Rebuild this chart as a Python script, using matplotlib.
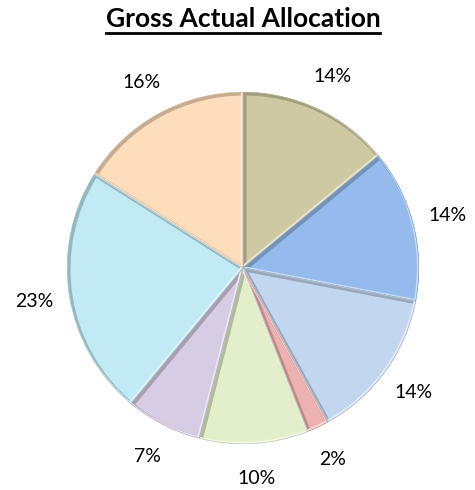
import matplotlib
matplotlib.use("Agg")
import matplotlib.pyplot as plt
import matplotlib.colors as mcolors
import matplotlib.transforms as mtransforms
from matplotlib.patches import Wedge
from matplotlib.lines import Line2D

# Allocation shares, clockwise from 12 o'clock
shares = [14, 14, 14, 2, 10, 7, 23, 16]
labels = ["14%", "14%", "14%", "2%", "10%", "7%", "23%", "16%"]
colors = ["#CFC9A3", "#95BBEC", "#C3D6F0", "#EDB1B0",
          "#E3EFCB", "#D6CCE3", "#C1EAF4", "#FDDDBB"]
title = "Gross Actual Allocation"

W, H = 475, 490
fig = plt.figure(figsize=(W / 100, H / 100), dpi=100)

cx, cy, r = 243, 490 - 268, 176
ax = fig.add_axes([(cx - r) / W, (cy - r) / H, 2 * r / W, 2 * r / H])

wedges, texts = ax.pie(
    shares, colors=colors, startangle=90, counterclock=False,
    radius=1, labels=labels, labeldistance=1.2,
    wedgeprops=dict(linewidth=0),
    textprops=dict(fontsize=14, family="Lato", color="black"),
)
ax.set_xlim(-1, 1)
ax.set_ylim(-1, 1)
ax.set_aspect("equal")
ax.axis("off")
for t in texts:
    t.set_horizontalalignment("center")
    t.set_verticalalignment("center")


def shade(c, f):
    rgb = mcolors.to_rgb(c)
    if f < 1:
        return tuple(v * f for v in rgb)
    return tuple(v + (1 - v) * (f - 1) for v in rgb)


# Soft bevel: thin gap, darker rim toward lower right, lighter rim upper left
for w, c in zip(wedges, colors):
    for dx, dy, col, lw in [(0.9, -0.9, shade(c, 0.78), 3.2),
                            (-0.7, 0.7, shade(c, 1.5), 1.6),
                            (0, 0, shade(c, 0.85), 0.8)]:
        off = mtransforms.offset_copy(ax.transData, fig=fig, x=dx, y=dy,
                                      units="points")
        rim = Wedge((0, 0), w.r, w.theta1, w.theta2,
                    facecolor="none", edgecolor=col, linewidth=lw,
                    transform=off, joinstyle="round")
        ax.add_patch(rim)
        rim.set_clip_path(w)

fig.text(cx / W, 1 - 19 / H, title, ha="center", va="center",
         fontsize=19, fontweight="bold", family="Lato")
fig.canvas.draw()
bb = fig.texts[0].get_window_extent()
fig.add_artist(Line2D([bb.x0 / W, bb.x1 / W], [(H - 33) / H, (H - 33) / H],
                      color="black", linewidth=2, transform=fig.transFigure))

fig.savefig("out.png", dpi=100)
